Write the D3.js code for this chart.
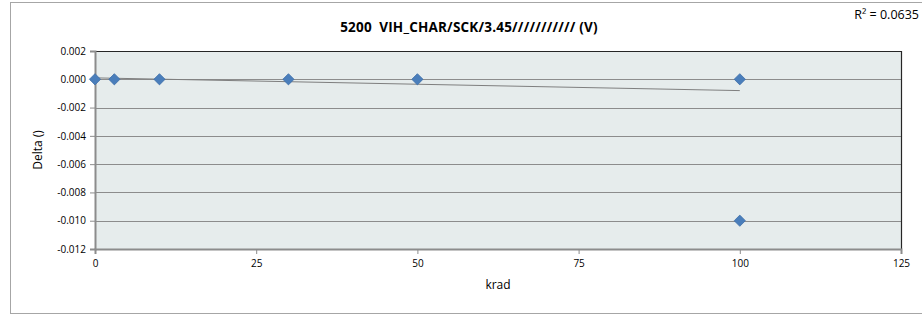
<!DOCTYPE html>
<html>
<head>
<meta charset="utf-8">
<script src="https://cdn.jsdelivr.net/npm/d3@7"></script>
<style>
  body { margin: 0; background: #fff; }
  text { font-family: "Open Sans", "Liberation Sans", Arial, sans-serif; white-space: pre; }
</style>
</head>
<body>
<script>
const width = 922;
const height = 315;

const title = '5200  VIH_CHAR/SCK/3.45/////////// (V)';
const rSquared = 'R² = 0.0635';
const doses = [0, 3, 10, 30, 50, 100, 100];
const deltas = [0, 0, 0, 0, 0, 0, -0.010];
const trendX = [0, 100];
const trendY = [0.0001, -0.0008];
const xTicks = [0, 25, 50, 75, 100, 125];
const yTicks = [0.002, 0, -0.002, -0.004, -0.006, -0.008, -0.010, -0.012];

const plot = { left: 95, right: 901, top: 51, bottom: 249 };

function main() {
  const svg = d3.select('body').append('svg').attr('width', width).attr('height', height);

  // outer chart frame
  svg.append('rect')
    .attr('x', 10.5).attr('y', 2.5)
    .attr('width', width).attr('height', 311)
    .attr('fill', '#fff').attr('stroke', '#a6a6a6');

  const x = d3.scaleLinear().domain([0, 125]).range([plot.left, plot.right]);
  const y = d3.scaleLinear().domain([-0.012, 0.002]).range([plot.bottom, plot.top]);

  svg.append('rect')
    .attr('x', plot.left).attr('y', plot.top)
    .attr('width', plot.right - plot.left).attr('height', plot.bottom - plot.top)
    .attr('fill', '#e6ecec');

  // gridlines
  svg.append('g')
    .selectAll('line')
    .data(yTicks.slice(1, -1))
    .enter()
    .append('line')
    .attr('x1', plot.left).attr('x2', plot.right)
    .attr('y1', d => Math.round(y(d)) + 0.5).attr('y2', d => Math.round(y(d)) + 0.5)
    .attr('stroke', '#8c8c8c');

  // top and right border
  svg.append('path')
    .attr('d', `M${plot.left},${plot.top + 0.5}H${plot.right + 0.5}V${plot.bottom}`)
    .attr('fill', 'none').attr('stroke', '#262626').attr('stroke-width', 1.2);

  const yAxis = svg.append('g')
    .attr('transform', `translate(${plot.left},0)`)
    .call(d3.axisLeft(y).tickValues(yTicks).tickSize(5).tickPadding(4));
  yAxis.select('.domain').attr('stroke', '#8c8c8c').attr('stroke-width', 2);
  yAxis.selectAll('.tick line').attr('stroke', '#8c8c8c');
  yAxis.selectAll('text').attr('font-size', 10).attr('fill', '#000')
    .text(d => d3.format('.3f')(d).replace('−', '-'));

  const xAxis = svg.append('g')
    .attr('transform', `translate(0,${plot.bottom})`)
    .call(d3.axisBottom(x).tickValues(xTicks).tickSize(5).tickPadding(6));
  xAxis.select('.domain').attr('stroke', '#8c8c8c').attr('stroke-width', 2);
  xAxis.selectAll('.tick line').attr('stroke', '#8c8c8c');
  xAxis.selectAll('text').attr('font-size', 10).attr('fill', '#000');

  // trendline
  svg.append('path')
    .datum(trendX.map((d, i) => [d, trendY[i]]))
    .attr('d', d3.line().x(d => x(d[0])).y(d => y(d[1])))
    .attr('fill', 'none').attr('stroke', '#7f7f7f').attr('stroke-width', 1);

  // points
  svg.append('g')
    .selectAll('path')
    .data(doses.map((d, i) => [d, deltas[i]]))
    .enter()
    .append('path')
    .attr('transform', d => `translate(${x(d[0])},${y(d[1])})`)
    .attr('d', d3.symbol().type(d3.symbolDiamond2).size(80))
    .attr('fill', '#4a7ebb').attr('stroke', '#3f6fa8').attr('stroke-width', 0.8);

  svg.append('text')
    .attr('x', 469).attr('y', 32)
    .attr('text-anchor', 'middle')
    .attr('font-size', 13.5).attr('font-weight', 'bold')
    .attr('letter-spacing', 0.2)
    .text(title);

  svg.append('text')
    .attr('x', 919).attr('y', 19)
    .attr('text-anchor', 'end')
    .attr('font-size', 12.5)
    .text(rSquared);

  svg.append('text')
    .attr('x', 498).attr('y', 289)
    .attr('text-anchor', 'middle')
    .attr('font-size', 12)
    .text('krad');

  svg.append('text')
    .attr('transform', 'translate(42,150) rotate(-90)')
    .attr('text-anchor', 'middle')
    .attr('font-size', 12)
    .text('Delta ()');
}

main();
</script>
</body>
</html>
